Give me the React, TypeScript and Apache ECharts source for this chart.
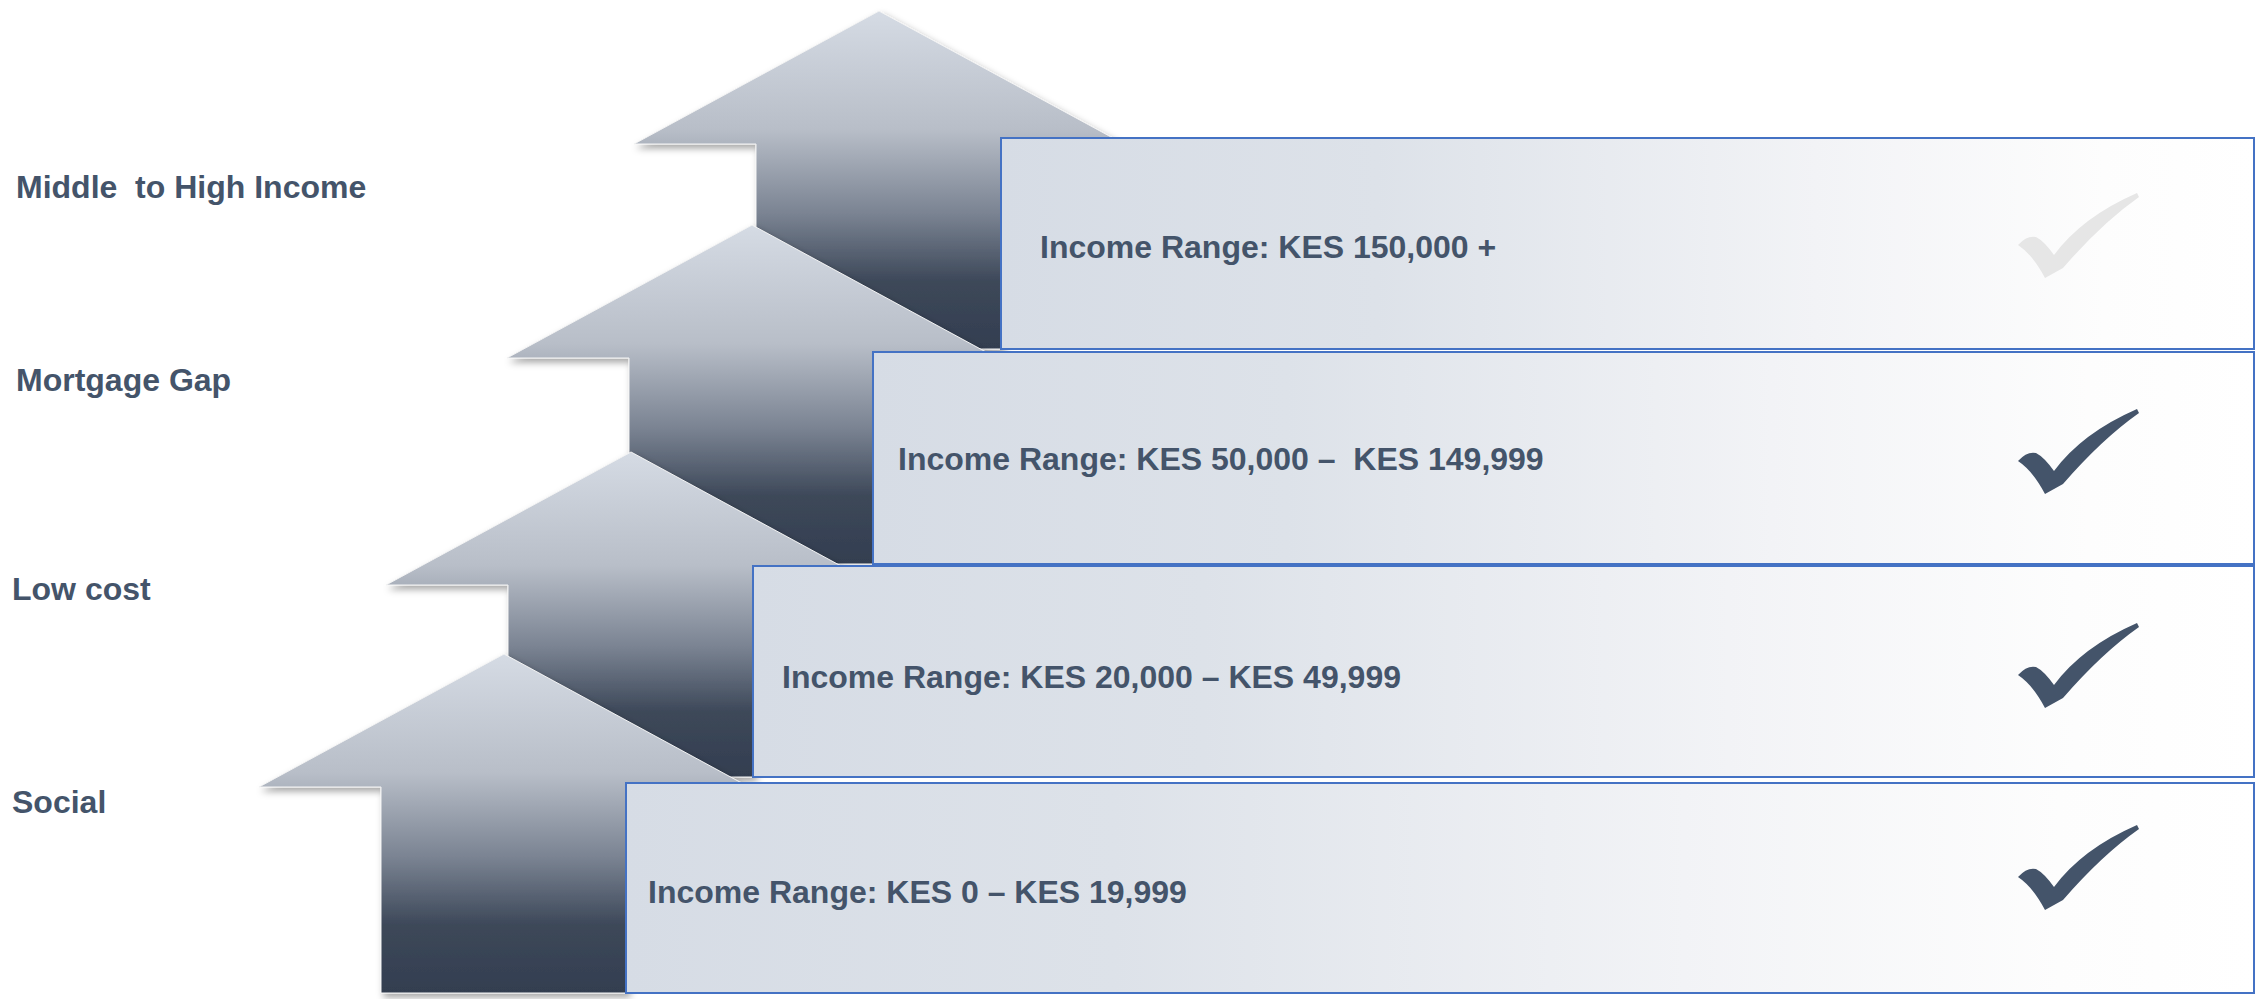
import React, { useEffect, useRef } from "react";
import * as echarts from "echarts";

// ---- data ----
const TIERS = ["Middle  to High Income", "Mortgage Gap", "Low cost", "Social"];
const RANGES = [
  "Income Range: KES 150,000 +",
  "Income Range: KES 50,000 –  KES 149,999",
  "Income Range: KES 20,000 – KES 49,999",
  "Income Range: KES 0 – KES 19,999",
];
const COVERED = [false, true, true, true];

// ---- layout (pixels) ----
const BOX_TOP = [138, 352, 566, 783];
const BOX_BOTTOM = [349, 564, 777, 993];
const BOX_LEFT = [1001, 873, 753, 626];
const BOX_RIGHT = 2254;
const ARROW_CX = [879, 752, 631, 504];
const ARROW_TIP = [11, 225, 452, 654];
const SHAFT_HALF = 123;
const HEAD_HALF = 245;
const HEAD_H = 133;
const LABEL_X = [16, 16, 12, 12];
const LABEL_Y = [187, 380, 589, 802];
const TEXT_X = [1040, 898, 782, 648];
const TEXT_Y = [247, 459, 677, 892];
const CHECK_X = 2018;
const CHECK_Y = [193, 409, 623, 825];

const TEXT_COLOR = "#44546a";
const FONT = "'Liberation Sans', Arial, sans-serif";

const CHECK_PATH =
  "M0 52 Q9 42 18 44 Q26 48 36 62 Q64 24 119 0 L121 4 Q84 30 45 75 L27 85 Q15 62 0 52 Z";

let registered = false;
function registerCheck() {
  if (registered) return;
  echarts.graphic.registerShape("checkmark", echarts.graphic.extendPath(CHECK_PATH, {}));
  registered = true;
}

export default function App() {
  const ref = useRef<HTMLDivElement>(null);

  useEffect(() => {
    if (!ref.current) return;
    registerCheck();
    const chart = echarts.init(ref.current, undefined, { renderer: "svg" });

    const elements: any[] = [];

    // arrows (drawn top tier first so lower arrows overlap the ones above)
    TIERS.forEach((_, i) => {
      const cx = ARROW_CX[i];
      const tip = ARROW_TIP[i];
      const base = tip + HEAD_H;
      const bottom = BOX_BOTTOM[i];
      elements.push({
        type: "polygon",
        shape: {
          points: [
            [cx, tip],
            [cx + HEAD_HALF, base],
            [cx + SHAFT_HALF, base],
            [cx + SHAFT_HALF, bottom],
            [cx - SHAFT_HALF, bottom],
            [cx - SHAFT_HALF, base],
            [cx - HEAD_HALF, base],
          ],
        },
        style: {
          fill: new echarts.graphic.LinearGradient(0, 0, 0, 1, [
            { offset: 0, color: "#d5dbe4" },
            { offset: 0.35, color: "#b8bec8" },
            { offset: 0.6, color: "#7a8392" },
            { offset: 0.8, color: "#3d4859" },
            { offset: 1, color: "#333e50" },
          ]),
          stroke: "#f4f4f4",
          lineWidth: 1,
          shadowColor: "rgba(0,0,0,0.35)",
          shadowBlur: 7,
          shadowOffsetX: 3,
          shadowOffsetY: 4,
        },
      });
    });

    // boxes
    TIERS.forEach((_, i) => {
      elements.push({
        type: "rect",
        shape: {
          x: BOX_LEFT[i],
          y: BOX_TOP[i],
          width: BOX_RIGHT - BOX_LEFT[i],
          height: BOX_BOTTOM[i] - BOX_TOP[i],
        },
        style: {
          fill: new echarts.graphic.LinearGradient(0, 0, 1, 0, [
            { offset: 0, color: "#d6dce5" },
            { offset: 0.3, color: "#dde2e9" },
            { offset: 0.65, color: "#f2f3f6" },
            { offset: 0.88, color: "#fdfdfd" },
            { offset: 1, color: "#ffffff" },
          ]),
          stroke: "#4472c4",
          lineWidth: 2,
        },
      });
      elements.push({
        type: "text",
        x: TEXT_X[i],
        y: TEXT_Y[i],
        style: {
          text: RANGES[i],
          fill: TEXT_COLOR,
          font: `bold 32px ${FONT}`,
          textVerticalAlign: "middle",
          verticalAlign: "middle",
          align: "left",
        },
      });
      elements.push({
        type: "checkmark",
        x: CHECK_X,
        y: CHECK_Y[i],
        shape: {},
        style: { fill: COVERED[i] ? "#44546a" : "#e6e6e6" },
      });
    });

    // tier labels
    TIERS.forEach((t, i) => {
      elements.push({
        type: "text",
        x: LABEL_X[i],
        y: LABEL_Y[i],
        style: {
          text: t,
          fill: TEXT_COLOR,
          font: `bold 32px ${FONT}`,
          verticalAlign: "middle",
          align: "left",
        },
      });
    });

    chart.setOption({
      animation: false,
      backgroundColor: "#ffffff",
      graphic: { elements },
    });

    return () => chart.dispose();
  }, []);

  return (
    <div
      ref={ref}
      style={{ position: "fixed", left: 0, top: 0, width: 2263, height: 999 }}
    />
  );
}
